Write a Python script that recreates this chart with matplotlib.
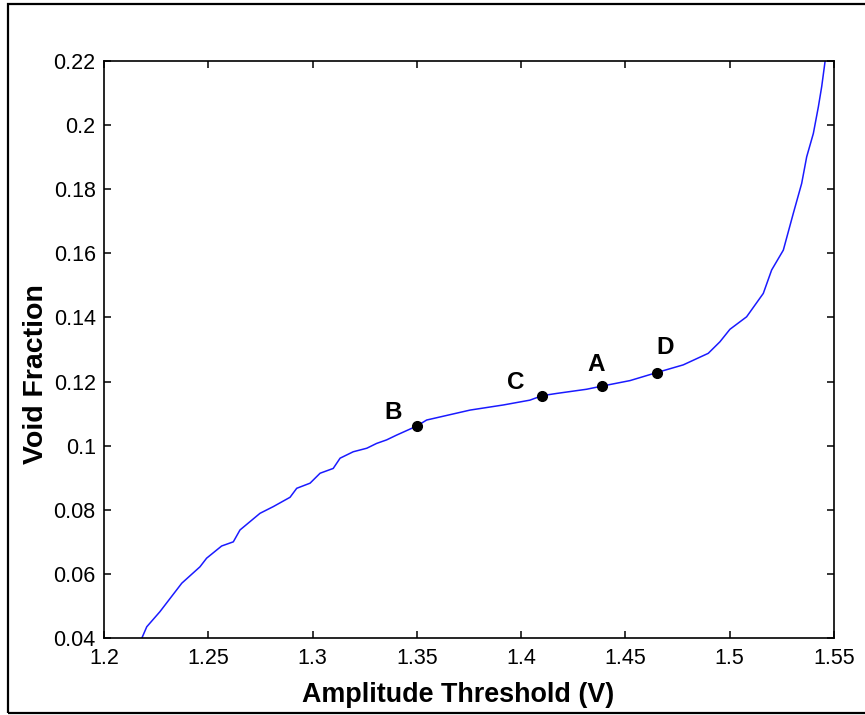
import matplotlib
matplotlib.use("Agg")
import matplotlib.pyplot as plt
from matplotlib.patches import Rectangle

# curve
threshold = [1.2181, 1.2205, 1.2268, 1.2373, 1.2460, 1.2492, 1.2564, 1.2620,
             1.2652, 1.2748, 1.2812, 1.2892, 1.2924, 1.2988, 1.3036, 1.3099,
             1.3132, 1.3195, 1.3260, 1.3307, 1.3355, 1.3403, 1.3499, 1.3547,
             1.3755, 1.3915, 1.4042, 1.4101, 1.4171, 1.4314, 1.4389, 1.4522,
             1.4650, 1.4777, 1.4897, 1.4953, 1.5001, 1.5081, 1.5161, 1.5201,
             1.5257, 1.5305, 1.5345, 1.5369, 1.5401, 1.5425, 1.5441, 1.5457,
             1.5462]
void_fraction = [0.0399, 0.0435, 0.0482, 0.0571, 0.0622, 0.0649, 0.0687, 0.0700,
                 0.0737, 0.0789, 0.0810, 0.0839, 0.0867, 0.0883, 0.0914, 0.0929,
                 0.0961, 0.0981, 0.0992, 0.1007, 0.1018, 0.1033, 0.1061, 0.1080,
                 0.1111, 0.1127, 0.1142, 0.1156, 0.1163, 0.1176, 0.1186, 0.1203,
                 0.1228, 0.1252, 0.1288, 0.1324, 0.1363, 0.1402, 0.1475, 0.1548,
                 0.1610, 0.1725, 0.1818, 0.1901, 0.1974, 0.2057, 0.2120, 0.2198,
                 0.2215]

# marked points
point_names = ["B", "C", "A", "D"]
point_x = [1.350, 1.410, 1.439, 1.465]
point_y = [0.1061, 0.1156, 0.1186, 0.1228]
label_offsets = [(-17.3, 9.5), (-18.7, 9.5), (-4.3, 15.2), (5.8, 18.2)]  # points

xticks = [1.2, 1.25, 1.3, 1.35, 1.4, 1.45, 1.5, 1.55]
xtick_labels = ["1.2", "1.25", "1.3", "1.35", "1.4", "1.45", "1.5", "1.55"]
yticks = [0.04, 0.06, 0.08, 0.1, 0.12, 0.14, 0.16, 0.18, 0.2, 0.22]
ytick_labels = ["0.04", "0.06", "0.08", "0.1", "0.12", "0.14", "0.16", "0.18", "0.2", "0.22"]

plt.rcParams['font.family'] = ['Liberation Sans', 'DejaVu Sans']

fig = plt.figure(figsize=(8.65, 7.15), dpi=100)
fig.patches.append(Rectangle((8 / 865, 2 / 715), 1.0, 709 / 715,
                             transform=fig.transFigure, fill=False,
                             edgecolor="black", linewidth=1.6))

ax = fig.add_axes([104 / 865, 77 / 715, 730 / 865, 577 / 715])
ax.plot(threshold, void_fraction, color="#1a1aff", linewidth=1.1)
ax.plot(point_x, point_y, "o", color="black", markersize=7)
for name, px, py, off in zip(point_names, point_x, point_y, label_offsets):
    ax.annotate(name, (px, py), xytext=off, textcoords="offset points",
                ha="center", va="center", fontsize=17.5, fontweight="bold")

ax.set_xlim(1.2, 1.55)
ax.set_ylim(0.04, 0.22)
ax.set_xticks(xticks)
ax.set_xticklabels(xtick_labels)
ax.set_yticks(yticks)
ax.set_yticklabels(ytick_labels)
ax.tick_params(direction="in", length=5, width=1.1, labelsize=15.5,
               top=True, right=True, pad=6, colors="black")
ax.tick_params(axis="x", pad=7)
for s in ax.spines.values():
    s.set_linewidth(1.2)

ax.set_xlabel("Amplitude Threshold (V)", fontsize=19.4, fontweight="bold", labelpad=9.5)
ax.set_ylabel("Void Fraction", fontsize=20.5, fontweight="bold", labelpad=3)
# labels sit a little off-centre in the reference
ax.xaxis.label.set_x(0.485)
ax.yaxis.label.set_y(0.457)

fig.savefig("out.png", dpi=100)
